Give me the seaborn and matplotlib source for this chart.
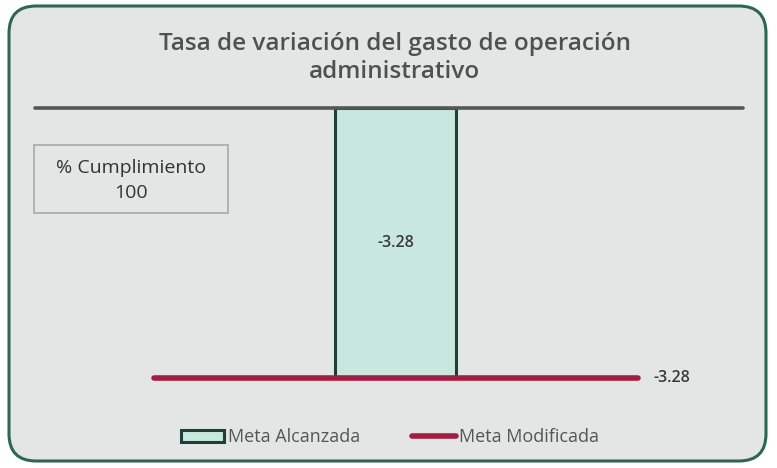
import matplotlib
matplotlib.use("Agg")
import matplotlib.pyplot as plt
import seaborn as sns
import pandas as pd
from matplotlib.patches import FancyBboxPatch, Patch
from matplotlib.lines import Line2D

# ---- data ----
categorias = ["Meta Alcanzada"]
meta_alcanzada = [-3.28]
meta_modificada = [-3.28]
cumplimiento = 100
titulo = "Tasa de variación del gasto de operación\nadministrativo"
etiquetas_leyenda = ["Meta Alcanzada", "Meta Modificada"]

sns.set_theme(style="white")
plt.rcParams["font.family"] = ["Open Sans", "DejaVu Sans"]

W, H = 777, 468
fig = plt.figure(figsize=(W / 100, H / 100), dpi=100)
fig.patch.set_facecolor("white")

BG = "#e3e6e4"
# rounded frame
frame = FancyBboxPatch((9 / W, 7 / H), (766 - 9) / W, (462 - 7) / H,
                       boxstyle="round,pad=0,rounding_size=0.035",
                       transform=fig.transFigure, facecolor=BG,
                       edgecolor="#2e6654", linewidth=2.2, zorder=-5,
                       mutation_aspect=W / H)
fig.patches.append(frame)

# axes: top = zero line (y=108), bottom = y=378 ; x from 35 to 743
left, right, top, bottom = 35, 743, 108, 378
ax = fig.add_axes([left / W, 1 - bottom / H, (right - left) / W, (bottom - top) / H])
ax.set_facecolor("none")
ax.set_zorder(2)

df = pd.DataFrame({"cat": [0], "valor": meta_alcanzada})
sns.barplot(data=df, x="cat", y="valor", ax=ax, width=1.0, native_scale=True,
            color="#c8e7df", edgecolor="#1f3f35", linewidth=2.2, saturation=1, zorder=2)

ax.set_xlim(-2.98, 2.87)
ax.set_ylim(meta_alcanzada[0], 0)

# zero line
ax.axhline(0, color="#555555", linewidth=2.6, zorder=3, clip_on=False)
# modified target line
ax.hlines(meta_modificada[0], -2.0, 2.0, color="#a51c42", linewidth=4,
          zorder=4, clip_on=False, capstyle="round")

# labels
ax.text(0, meta_alcanzada[0] / 2, f"{meta_alcanzada[0]:.2f}", ha="center", va="center",
        fontsize=11.5, fontweight="semibold", color="#3a3a3a")
ax.text(2.13, meta_modificada[0], f"{meta_modificada[0]:.2f}", ha="left", va="center",
        fontsize=11.5, fontweight="semibold", color="#3a3a3a", clip_on=False)

for s in ax.spines.values():
    s.set_visible(False)
ax.set_xticks([])
ax.set_yticks([])
ax.set_xlabel("")
ax.set_ylabel("")

# title
fig.text(395 / W, 1 - 58 / H, titulo, ha="center", va="center", fontsize=17.5,
         fontweight="semibold", color="#505050", linespacing=1.2)

# cumplimiento box
box = FancyBboxPatch((34 / W, 1 - 213 / H), 194 / W, 68 / H, boxstyle="square,pad=0",
                     transform=fig.transFigure, facecolor=BG, edgecolor="#a8a8a8",
                     linewidth=1.2, zorder=1)
fig.patches.append(box)
fig.text(131 / W, 1 - 168 / H, "% Cumplimiento", ha="center", va="center",
         fontsize=14, color="#333333")
fig.text(131 / W, 1 - 193 / H, f"{cumplimiento}", ha="center", va="center",
         fontsize=14, color="#333333")

# legend
handles = [Patch(facecolor="#c8e7df", edgecolor="#1f3f35", linewidth=2.2),
           Line2D([0], [0], color="#a51c42", linewidth=4)]
fig.legend(handles, etiquetas_leyenda, loc="center", bbox_to_anchor=(390 / W, 1 - 437 / H),
           ncol=2, frameon=False, fontsize=13, handlelength=2.4, handleheight=0.65,
           handletextpad=0.2, columnspacing=2.9, labelcolor="#555555")

fig.savefig("out.png", dpi=100, facecolor="white")
